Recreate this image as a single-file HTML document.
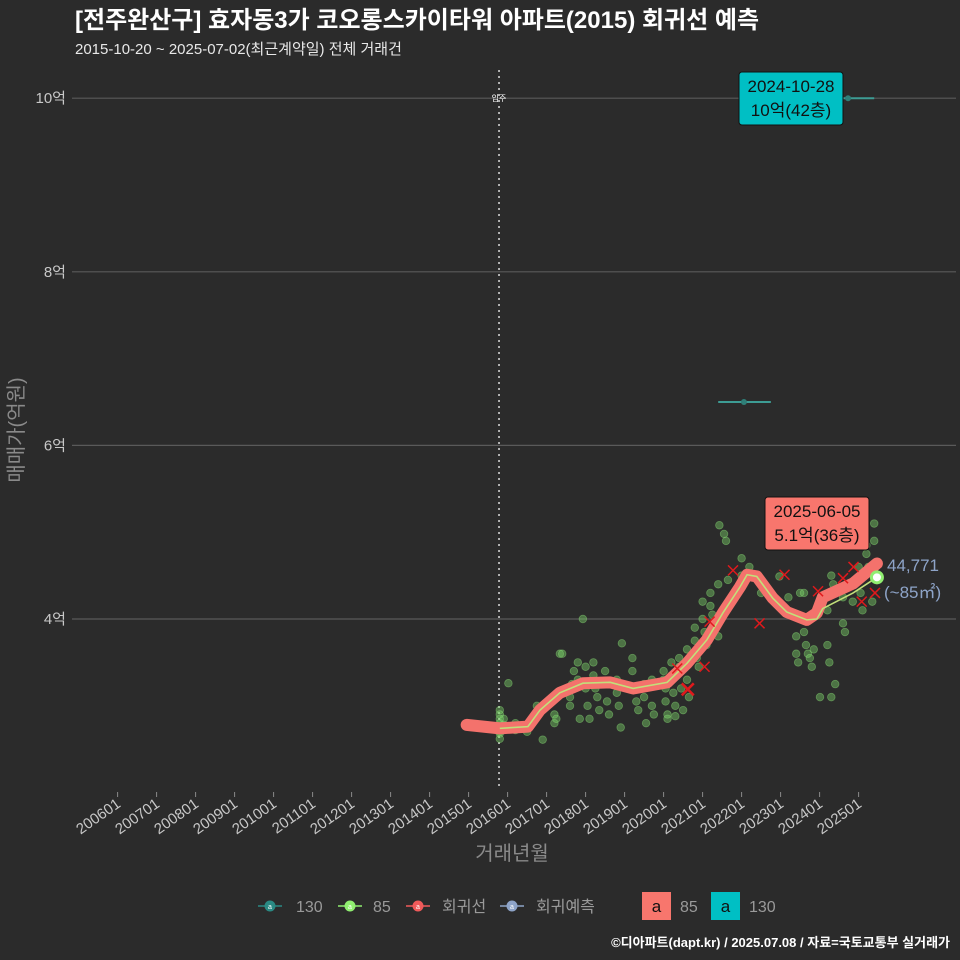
<!DOCTYPE html>
<html><head><meta charset="utf-8">
<style>
html,body{margin:0;padding:0;background:#2b2b2b;}
svg{display:block;font-family:"Liberation Sans","Noto Sans CJK KR",sans-serif;}
</style></head>
<body>
<svg id="chart" width="960" height="960" viewBox="0 0 960 960" xmlns="http://www.w3.org/2000/svg">
<rect width="960" height="960" fill="#2b2b2b"/>
<text x="75" y="28" fill="#ffffff" font-size="24" font-weight="bold">[전주완산구] 효자동3가 코오롱스카이타워 아파트(2015) 회귀선 예측</text>
<text x="75" y="54" fill="#e8e8e8" font-size="15">2015-10-20 ~ 2025-07-02(최근계약일) 전체 거래건</text>
<g id="grid"></g>
<g id="yaxis"></g>
<g id="xaxis"></g>
<g id="marks"></g>
<text transform="translate(23,430) rotate(-90)" text-anchor="middle" fill="#8a8a8a" font-size="20">매매가(억원)</text>
<text x="512" y="860" text-anchor="middle" fill="#8a8a8a" font-size="20">거래년월</text>
<g id="legend"></g>
<text x="950" y="947" text-anchor="end" fill="#ffffff" font-size="13" font-weight="bold">©디아파트(dapt.kr) / 2025.07.08 / 자료=국토교통부 실거래가</text>
</svg>
<script>
const yTicks=[4,6,8,10];
const xTickYears=[2006,2007,2008,2009,2010,2011,2012,2013,2014,2015,2016,2017,2018,2019,2020,2021,2022,2023,2024,2025];
const moveInYear=2015.78;
const regYears=[2014.95,2015.8,2016.52,2016.83,2017.34,2017.93,2018.63,2019.22,2020.09,2020.6,2021.11,2021.52,2021.96,2022.14,2022.39,2022.8,2023.16,2023.67,2023.93,2024.08,2024.86,2025.47];
const regValues=[2.78,2.74,2.76,2.95,3.15,3.26,3.27,3.2,3.27,3.49,3.76,4.07,4.37,4.51,4.49,4.24,4.08,3.99,4.07,4.25,4.41,4.64];
const avgYears=[2015.8,2016.52,2016.83,2017.34,2017.93,2018.63,2019.22,2020.09,2020.6,2021.11,2021.52,2021.96,2022.14,2022.39,2022.8,2023.16,2023.67,2023.93,2024.08,2024.86,2025.47];
const avgValues=[2.74,2.76,2.95,3.15,3.26,3.27,3.2,3.27,3.49,3.76,4.07,4.37,4.51,4.49,4.24,4.08,3.99,4.0,4.12,4.3,4.48];
const s85Years=[2015.8,2015.8,2015.8,2015.8,2015.8,2015.8,2015.8,2015.8,2015.9,2015.9,2015.9,2016.02,2016.2,2016.2,2016.5,2016.5,2016.75,2016.9,2017.2,2017.2,2017.25,2017.34,2017.4,2017.6,2017.6,2017.65,2017.7,2017.8,2017.8,2017.85,2017.93,2018.0,2018.0,2018.05,2018.1,2018.2,2018.2,2018.25,2018.3,2018.35,2018.5,2018.5,2018.55,2018.6,2018.8,2018.8,2018.85,2018.9,2018.93,2019.2,2019.2,2019.25,2019.3,2019.35,2019.5,2019.5,2019.55,2019.7,2019.7,2019.75,2020.0,2020.0,2020.05,2020.05,2020.1,2020.1,2020.2,2020.2,2020.25,2020.3,2020.3,2020.4,2020.4,2020.45,2020.5,2020.6,2020.6,2020.65,2020.8,2020.8,2020.85,2020.9,2021.0,2021.0,2021.05,2021.1,2021.2,2021.2,2021.25,2021.3,2021.4,2021.4,2021.43,2021.55,2021.6,2021.65,2022.0,2022.0,2022.05,2022.2,2022.25,2022.5,2022.97,2023.2,2023.4,2023.4,2023.45,2023.5,2023.6,2023.6,2023.65,2023.7,2023.75,2023.8,2023.85,2024.01,2024.2,2024.2,2024.25,2024.3,2024.3,2024.35,2024.4,2024.6,2024.6,2024.65,2024.8,2024.85,2025.0,2025.0,2025.05,2025.1,2025.2,2025.2,2025.25,2025.3,2025.35,2025.4,2025.4,2025.45];
const s85Values=[2.95,2.9,2.85,2.8,2.75,2.7,2.68,2.62,2.85,2.78,2.72,3.26,2.8,2.72,2.75,2.7,3.0,2.61,2.9,2.8,2.85,3.6,3.6,3.0,3.1,3.25,3.4,3.5,3.3,2.85,4.0,3.45,3.2,3.0,2.85,3.5,3.35,3.2,3.1,2.95,3.4,3.25,3.05,2.9,3.3,3.15,3.0,2.75,3.72,3.55,3.4,3.2,3.05,2.95,3.25,3.1,2.8,3.3,3.0,2.9,3.4,3.3,3.2,3.05,2.9,2.85,3.5,3.35,3.15,3.0,2.88,3.55,3.45,3.2,2.95,3.65,3.3,3.1,3.9,3.75,3.55,3.45,4.2,4.0,3.85,3.7,4.3,4.15,4.05,3.9,4.4,3.8,5.08,4.98,4.9,4.45,4.7,4.5,4.4,4.6,4.5,4.3,4.49,4.25,3.8,3.6,3.5,4.3,4.3,3.85,3.7,3.6,3.55,3.45,3.65,3.1,4.1,3.7,3.5,3.1,4.5,4.4,3.25,4.25,3.95,3.85,4.4,4.2,4.6,4.45,4.3,4.1,4.75,4.85,4.6,4.55,4.2,5.1,4.9,4.65];
const xYears=[2020.62,2021.05,2021.18,2021.78,2022.46,2023.1,2023.96,2024.6,2024.87,2025.08,2025.42,2020.35];
const xValues=[3.19,3.45,3.97,4.56,3.95,4.51,4.32,4.47,4.6,4.2,4.3,3.43];
const s130Years=[2022.06,2024.73];
const s130Values=[6.5,10.0];
const s130Spans=[[2021.4,2022.75],[2024.58,2025.4]];
const endYear=2025.47, endValue=4.48;

const NS="http://www.w3.org/2000/svg";
const X=y=>117.6+(y-2006)*39;
const Y=v=>619-(v-4)*86.8;
function el(tag,attrs,parent){const e=document.createElementNS(NS,tag);for(const k in attrs)e.setAttribute(k,attrs[k]);parent.appendChild(e);return e;}
const grid=document.getElementById('grid'),ya=document.getElementById('yaxis'),xa=document.getElementById('xaxis'),mk=document.getElementById('marks'),lg=document.getElementById('legend');

yTicks.forEach(t=>{
  const l=el('line',{x1:72,x2:956,y1:Y(t),y2:Y(t),stroke:'#5a5a5a','stroke-width':1.2},grid);
  
  
  const tx=el('text',{x:66,y:Y(t)+5,'text-anchor':'end',fill:'#c8c8c8','font-size':15},ya);
  tx.textContent=t+'억';
  
  
});
xTickYears.forEach(yr=>{
  const x=X(yr);
  const tk=el('line',{x1:x,x2:x,y1:792,y2:797,stroke:'#8a8a8a','stroke-width':1},xa);
  
  
  const tx=el('text',{transform:`translate(${x+4},${806}) rotate(-35)`,'text-anchor':'end',fill:'#c8c8c8','font-size':15},xa);
  tx.textContent=yr+'01';
  
  
});
const mv=el('line',{x1:X(moveInYear),x2:X(moveInYear),y1:70,y2:790,stroke:'#dddddd','stroke-width':1.5,'stroke-dasharray':'2,4'},mk);


const mvt=el('text',{x:X(moveInYear),y:101,'text-anchor':'middle',fill:'#fff','font-size':8},mk);
mvt.textContent='입주';



s85Years.forEach((yr,i)=>{
  const c=el('circle',{cx:X(yr),cy:Y(s85Values[i]),r:3.8,fill:'rgba(125,215,105,0.42)',stroke:'rgba(140,225,120,0.45)','stroke-width':0.8},mk);
  
  
});
s130Years.forEach((yr,i)=>{
  const sp=s130Spans[i];
  const l=el('line',{x1:X(sp[0]),x2:X(sp[1]),y1:Y(s130Values[i]),y2:Y(s130Values[i]),stroke:'#3d9c94','stroke-width':2},mk);
  
  
  const c=el('circle',{cx:X(yr),cy:Y(s130Values[i]),r:3,fill:'#2f7f78'},mk);
  
  
});
const rp=regYears.map((y,i)=>X(y)+','+Y(regValues[i])).join(' ');
const reg=el('polyline',{points:rp,fill:'none',stroke:'#f4726c','stroke-width':12,'stroke-linecap':'round','stroke-linejoin':'round'},mk);


const ap=avgYears.map((y,i)=>X(y)+','+Y(avgValues[i])).join(' ');
const avg=el('polyline',{points:ap,fill:'none',stroke:'#c2e07a','stroke-width':1.6},mk);


xYears.forEach((yr,i)=>{
  const x=X(yr),y=Y(xValues[i]),s=i===0?6:5;
  const p=el('path',{d:`M${x-s},${y-s}L${x+s},${y+s}M${x+s},${y-s}L${x-s},${y+s}`,stroke:'#e0191c','stroke-width':i===0?2.5:1.5},mk);
  
  
});
const ed=el('circle',{cx:X(endYear),cy:Y(endValue),r:5.5,fill:'#ffffff',stroke:'#90ee70','stroke-width':3},mk);


const e1=el('text',{x:887,y:571,fill:'#8ea4c8','font-size':17},mk);e1.textContent='44,771';


const e2=el('text',{x:884,y:598,fill:'#8ea4c8','font-size':17},mk);e2.textContent='(~85㎡)';



function callout(x,y,w,h,fill,l1,l2,name){
  const g=el('g',{},mk);
  
  
  el('rect',{x:x,y:y,width:w,height:h,rx:3,fill:fill,stroke:'#111','stroke-width':1},g);
  const a=el('text',{x:x+w/2,y:y+20,'text-anchor':'middle',fill:'#111','font-size':17},g);a.textContent=l1;
  const b=el('text',{x:x+w/2,y:y+44,'text-anchor':'middle',fill:'#111','font-size':17},g);b.textContent=l2;
}
callout(739,72,104,53,'#00bfc4','2024-10-28','10억(42층)','callout-max-130');
callout(765,497,104,53,'#f8766d','2025-06-05','5.1억(36층)','callout-latest-85');

const items=[['#2a8a84','130',258,296],['#90ee70','85',338,373],['#f05a5a','회귀선',406,442],['#8ea4c8','회귀예측',500,536]];
items.forEach(([c,t,lx,tx0])=>{
  const g=el('g',{},lg);
  
  
  el('line',{x1:lx,x2:lx+24,y1:906,y2:906,stroke:c,'stroke-width':1.5},g);
  el('circle',{cx:lx+12,cy:906,r:5.5,fill:c},g);
  el('text',{x:lx+12,y:909,'text-anchor':'middle',fill:'#fff','font-size':7},g).textContent='a';
  const tx=el('text',{x:tx0,y:912,fill:'#9a9a9a','font-size':16},g);tx.textContent=t;
});
[[642,'#f8766d','85'],[711,'#00bfc4','130']].forEach(([x,c,t])=>{
  const g=el('g',{},lg);
  
  
  el('rect',{x:x,y:892,width:29,height:28,fill:c},g);
  el('text',{x:x+14.5,y:912,'text-anchor':'middle',fill:'#111','font-size':17},g).textContent='a';
  el('text',{x:x+38,y:912,fill:'#9a9a9a','font-size':16},g).textContent=t;
});
</script>
</body></html>
